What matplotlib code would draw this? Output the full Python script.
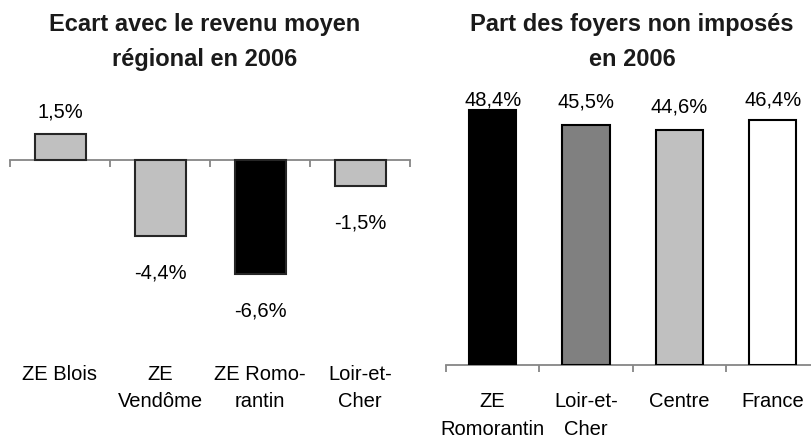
import matplotlib
matplotlib.use("Agg")
import matplotlib.pyplot as plt
from matplotlib.transforms import blended_transform_factory

plt.rcParams['font.family'] = ['Liberation Sans', 'DejaVu Sans']

# data
ecart_labels = ["ZE Blois", "ZE\nVendôme", "ZE Romo-\nrantin", "Loir-et-\nCher"]
ecart_values = [1.5, -4.4, -6.6, -1.5]
ecart_colors = ["#c0c0c0", "#c0c0c0", "#000000", "#c0c0c0"]

part_labels = ["ZE\nRomorantin", "Loir-et-\nCher", "Centre", "France"]
part_values = [48.4, 45.5, 44.6, 46.4]
part_colors = ["#000000", "#808080", "#c0c0c0", "#ffffff"]

W, H = 811, 439
fig = plt.figure(figsize=(W / 100, H / 100), dpi=100)


def fmt(v):
    return ("%.1f%%" % v).replace(".", ",")


def setup(ax, n):
    ax.set_xlim(-0.5, n - 0.5)
    for s in ["top", "right", "left"]:
        ax.spines[s].set_visible(False)
    ax.spines["bottom"].set_position(("data", 0))
    ax.spines["bottom"].set_color("#868686")
    ax.spines["bottom"].set_linewidth(1.3)
    ax.set_xticks([i - 0.5 for i in range(n + 1)])
    ax.set_xticklabels([])
    ax.tick_params(axis="x", direction="out", length=5, width=1.3, color="#868686")
    ax.set_yticks([])
    ax.patch.set_alpha(0)


# left chart: ecart au revenu moyen
ax1 = fig.add_axes([10 / W, 1 - 334 / H, 400 / W, 242 / H])
ax1.set_ylim(-10, 4)
setup(ax1, len(ecart_values))
ax1.bar(range(len(ecart_values)), ecart_values, width=0.51, color=ecart_colors,
        edgecolor="#262626", linewidth=1.5, zorder=3)
for i, v in enumerate(ecart_values):
    off = 23 if v > 0 else -36
    ax1.annotate(fmt(v), xy=(i, v), xytext=(0, off * 0.72), textcoords="offset points",
                 ha="center", va="center", fontsize=14.5)
tr1 = blended_transform_factory(ax1.transData, fig.transFigure)
for i, lab in enumerate(ecart_labels):
    ax1.text(i, 1 - 365 / H, lab, transform=tr1, ha="center", va="top",
             fontsize=14.5, linespacing=1.55, multialignment="center")
fig.text(205 / W, 1 - 42 / H, "Ecart avec le revenu moyen\nrégional en 2006",
         ha="center", va="center", fontsize=17, fontweight="bold",
         color="#1a1a1a", linespacing=1.68)

# right chart: part des foyers non imposes
ppu = 5.27
ytop = 52
ax2 = fig.add_axes([446 / W, 1 - 366 / H, 373.3 / W, ytop * ppu / H])
ax2.set_ylim(0, ytop)
setup(ax2, len(part_values))
ax2.bar(range(len(part_values)), part_values, width=0.51, color=part_colors,
        edgecolor="#000000", linewidth=1.5, zorder=3)
for i, v in enumerate(part_values):
    y = min(v + 24 / ppu, ytop - 8 / ppu)
    ax2.text(i, y, fmt(v), ha="center", va="center", fontsize=14.5)
tr2 = blended_transform_factory(ax2.transData, fig.transFigure)
for i, lab in enumerate(part_labels):
    ax2.text(i, 1 - 392 / H, lab, transform=tr2, ha="center", va="top",
             fontsize=14.5, linespacing=1.6, multialignment="center")
fig.text(632 / W, 1 - 42 / H, "Part des foyers non imposés\nen 2006",
         ha="center", va="center", fontsize=17, fontweight="bold",
         color="#1a1a1a", linespacing=1.68)

fig.savefig("out.png", dpi=100)
